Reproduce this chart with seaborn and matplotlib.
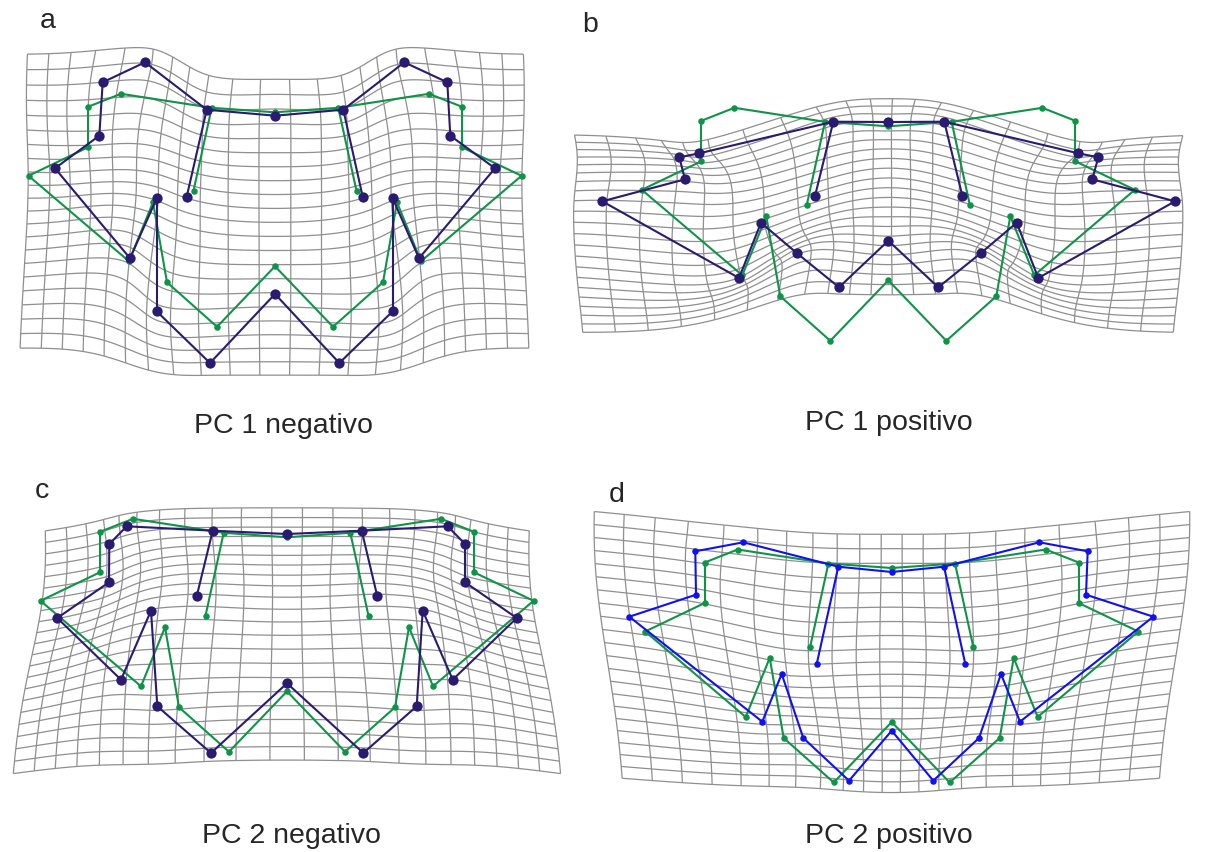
import numpy as np
import pandas as pd
import seaborn as sns
import matplotlib
matplotlib.use("Agg")
import matplotlib.pyplot as plt
from matplotlib.collections import LineCollection

# landmark order: mid-top, then left side, mid-bottom, left tip, then right side
# coordinates in px relative to the mid-top landmark of the mean shape (y downwards)
mean_x = [0, -63.3, -154, -187, -187, -246.5, -146, -122, -108, -58, 0, -81.5,
          63.3, 154, 187, 187, 246.5, 146, 122, 108, 58, 81.5]
mean_y = [0, -4.5, -18.5, -5.5, 35, 63.5, 149, 90, 170, 214.5, 154, 78.5,
          -4.5, -18.5, -5.5, 35, 63.5, 149, 90, 170, 214.5, 78.5]

# PC 1 negativo
pc1neg_x = [0, -68.3, -130, -172.3, -175.7, -220, -145, -118.3, -118.3, -65, 0, -88.3,
            68.3, 129.3, 172.3, 175.3, 220, 144, 117.7, 117.7, 64.3, 87.7]
pc1neg_y = [3.4, -2.6, -50, -30, 23.4, 56, 146, 86, 199, 250.7, 181.7, 84.4,
            -2.6, -50, -30, 23.4, 56, 146, 86, 199, 250.7, 84.4]

# PC 1 positivo
pc1pos_x = [0, -55, -189, -209, -203.3, -286, -149.3, -127.3, -91.6, -49.3, 0, -73.3,
            56, 190, 210, 204, 286.7, 150, 128.4, 92.7, 50, 74]
pc1pos_y = [-4.3, -4.6, 27, 31, 53, 75, 151.7, 96.4, 126.7, 161, 114.4, 69.7,
            -4.6, 27, 31, 53, 75, 151.7, 96.4, 126.7, 161, 69.4]

# PC 2 negativo
pc2neg_x = [0, -74.3, -160.3, -177.7, -178, -229.7, -166, -136, -129.7, -76, 0, -90.3,
            74.7, 160.7, 178, 178, 229.7, 165.7, 135.7, 129.7, 76.3, 90.3]
pc2neg_y = [-3.3, -6.6, -11, 6.7, 45, 80.7, 142.4, 73.4, 169, 215.7, 146, 59,
            -6.6, -11, 6.7, 45, 80.7, 142.4, 73.4, 169, 215.7, 59]

# PC 2 positivo
pc2pos_x = [0, -53.4, -148.4, -196.4, -195.7, -262.4, -129.4, -110, -88.4, -42.7, 0, -75,
            52.3, 147.6, 196, 194.3, 261.6, 128.3, 109.3, 87.3, 41.6, 73.6]
pc2pos_y = [4, -1.3, -25.7, -16.7, 26.7, 48.7, 153.7, 106, 170, 212.7, 162.7, 96,
            -1.3, -25.7, -16.7, 26.7, 48.7, 153.7, 106, 170, 212.7, 96]

links = [(0, 1), (1, 2), (2, 3), (3, 4), (4, 5), (5, 6), (6, 7), (7, 8), (8, 9), (9, 10), (1, 11),
         (0, 12), (12, 13), (13, 14), (14, 15), (15, 16), (16, 17), (17, 18), (18, 19), (19, 20),
         (20, 10), (12, 21)]

letters = ["a", "b", "c", "d"]
titles = ["PC 1 negativo", "PC 1 positivo", "PC 2 negativo", "PC 2 positivo"]

W, H = 1208, 853
green = "#0f9447"
navy = "#2a1a70"
blue = "#1010f0"
grid_col = "#8f8f8f"


def tps_fit(src, dst):
    src = src / 100.0
    n = len(src)
    r2 = ((src[:, None, :] - src[None, :, :]) ** 2).sum(-1)
    K = np.where(r2 > 0, r2 * np.log(r2 + 1e-12), 0.0)
    P = np.hstack([np.ones((n, 1)), src])
    L = np.zeros((n + 3, n + 3))
    L[:n, :n] = K
    L[:n, n:] = P
    L[n:, :n] = P.T
    Y = np.vstack([dst, np.zeros((3, 2))])
    return src, np.linalg.solve(L, Y)


def tps_apply(model, pts):
    src, prm = model
    p = pts / 100.0
    r2 = ((p[:, None, :] - src[None, :, :]) ** 2).sum(-1)
    K = np.where(r2 > 0, r2 * np.log(r2 + 1e-12), 0.0)
    n = len(src)
    return K @ prm[:n] + prm[n] + p @ prm[n + 1:]


def draw_panel(box, centre, tx, ty, line_col, big, gx, gy):
    x0, y0, x1, y1 = box
    cx, cy = centre
    ax = fig.add_axes([x0 / W, 1 - y1 / H, (x1 - x0) / W, (y1 - y0) / H])
    ax.axis("off")

    src = np.column_stack([mean_x, mean_y]).astype(float)
    dst = np.column_stack([tx, ty]).astype(float)
    model = tps_fit(src, dst)

    # deformation grid: regular grid on the mean shape, warped onto the PC shape
    gxs = np.linspace(gx[0], gx[1], 22)
    gys = np.linspace(gy[0], gy[1], 22)
    fine_x = np.linspace(gx[0], gx[1], 200)
    fine_y = np.linspace(gy[0], gy[1], 200)
    segs = []
    for v in gys:
        segs.append(tps_apply(model, np.column_stack([fine_x, np.full_like(fine_x, v)])))
    for u in gxs:
        segs.append(tps_apply(model, np.column_stack([np.full_like(fine_y, u), fine_y])))
    ax.add_collection(LineCollection(segs, colors=grid_col, linewidths=0.9, zorder=1))

    for xs, ys, col, ms, lw, z in [(mean_x, mean_y, green, 22, 1.5, 2),
                                    (tx, ty, line_col, big, 1.5, 3)]:
        rows = []
        for k, (i, j) in enumerate(links):
            rows.append({"x": xs[i], "y": ys[i], "seg": k})
            rows.append({"x": xs[j], "y": ys[j], "seg": k})
        df = pd.DataFrame(rows)
        sns.lineplot(data=df, x="x", y="y", units="seg", estimator=None, sort=False,
                     color=col, lw=lw, ax=ax, zorder=z, legend=False)
        sns.scatterplot(x=list(xs), y=list(ys), color=col, s=ms, linewidth=0, ax=ax,
                        zorder=z + 0.5, legend=False)
    ax.set_xlim(x0 - cx, x1 - cx)
    ax.set_ylim(y1 - cy, y0 - cy)
    return ax


sns.set_style("white")
plt.rcParams["font.family"] = ["Liberation Sans", "DejaVu Sans"]
fig = plt.figure(figsize=(W / 100, H / 100), dpi=100)

draw_panel((0, 0, 560, 400), (275, 113.3), pc1neg_x, pc1neg_y, navy, 55,
           (-280, 280), (-30, 226))
draw_panel((560, 0, 1208, 400), (888.3, 127.3), pc1pos_x, pc1pos_y, navy, 55,
           (-268, 252), (-36, 222))
draw_panel((0, 470, 580, 810), (287, 538.3), pc2neg_x, pc2neg_y, navy, 55,
           (-268, 268), (-33, 222))
draw_panel((580, 470, 1208, 810), (891.7, 569), pc2pos_x, pc2pos_y, blue, 22,
           (-272, 272), (-32, 226))

# captions and panel letters (pixel positions of the original figure)
for txt, (px, py) in zip(titles, [(283.5, 433), (888.5, 430), (291, 843), (889, 843)]):
    fig.text(px / W, 1 - py / H, txt, ha="center", va="baseline", fontsize=20.5)
for txt, (px, py) in zip(letters, [(48, 28), (590, 32), (42, 498), (617, 502)]):
    fig.text(px / W, 1 - py / H, txt, ha="center", va="baseline", fontsize=20.5)

fig.savefig("out.png", dpi=100)
